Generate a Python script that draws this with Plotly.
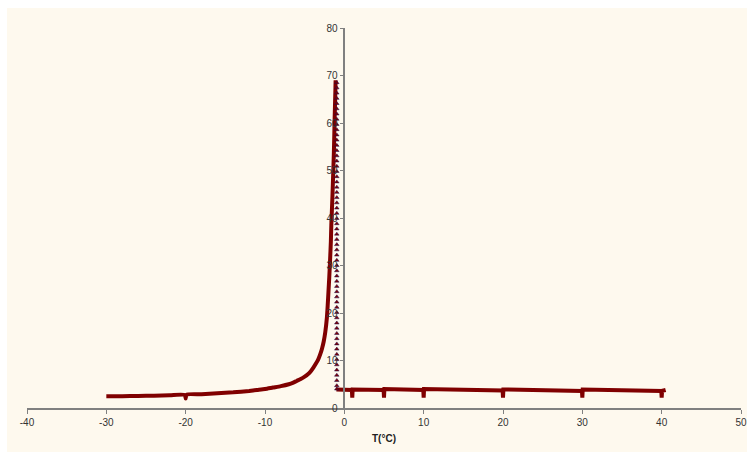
import plotly.graph_objects as go

# Left branch (cooling curve, rising to the peak)
t_left = [-30.0, -28.0, -26.0, -24.0, -22.0, -20.1, -20.0, -19.9, -18.0, -16.0, -14.0,
          -12.0, -11.0, -10.0, -9.0, -8.0, -7.0, -6.5, -6.0, -5.5, -5.0, -4.6, -4.2,
          -3.9, -3.6, -3.3, -3.0, -2.8, -2.6, -2.4, -2.2, -2.1, -2.0, -1.9, -1.8,
          -1.7, -1.64, -1.57, -1.5, -1.45, -1.39, -1.34, -1.3, -1.26, -1.22,
          -1.18, -1.15, -1.12, -1.1]
v_left = [2.5, 2.5, 2.55, 2.6, 2.7, 2.75, 2.0, 2.8, 2.9, 3.1, 3.3,
          3.6, 3.8, 4.0, 4.3, 4.6, 5.0, 5.3, 5.7, 6.1, 6.6, 7.1, 7.8,
          8.5, 9.3, 10.2, 11.5, 12.6, 14.0, 16.0, 19.0, 21.5, 24.5, 27.5, 31.0,
          35.0, 38.5, 41.5, 44.5, 47.0, 50.0, 52.5, 55.0, 58.0, 61.0,
          63.5, 65.5, 67.5, 69.0]

# Vertical drop after the peak (triangle markers)
t_drop = [-0.95] * 60
v_drop = [68.5, 67.4, 66.3, 65.2, 64.1, 63.0, 61.9, 60.8, 59.7, 58.6,
          57.5, 56.4, 55.3, 54.2, 53.1, 52.0, 50.9, 49.8, 48.7, 47.6,
          46.5, 45.4, 44.3, 43.2, 42.1, 41.0, 39.9, 38.8, 37.7, 36.6,
          35.5, 34.4, 33.3, 32.2, 31.1, 30.0, 28.9, 27.8, 26.7, 25.6,
          24.5, 23.4, 22.3, 21.2, 20.1, 19.0, 17.9, 16.8, 15.7, 14.6,
          13.5, 12.4, 11.3, 10.2, 9.1, 8.0, 6.9, 5.8, 4.7, 4.0]

# Right branch (flat plateau with small notches)
t_right = [-1.0, 0.95, 1.0, 1.05, 4.95, 5.0, 5.05, 9.95, 10.0, 10.05,
           19.95, 20.0, 20.05, 29.95, 30.0, 30.05, 39.95, 40.0, 40.05, 40.5]
v_right = [3.9, 3.8, 2.2, 3.9, 3.8, 2.2, 4.0, 3.8, 2.2, 4.0,
           3.7, 2.2, 3.9, 3.6, 2.2, 3.9, 3.6, 2.2, 3.6, 3.8]

x_ticks = [-40, -30, -20, -10, 0, 10, 20, 30, 40, 50]
x_labels = ["-40", "-30", "-20", "-10", "0", "10", "20", "30", "40", "50"]
y_ticks = [0, 10, 20, 30, 40, 50, 60, 70, 80]

LINE = "#800000"
AXIS = "#808080"
FONT = dict(family="Liberation Sans, Arial, sans-serif", size=10, color="#333333")

fig = go.Figure()
fig.add_trace(go.Scatter(x=t_left, y=v_left, mode="lines",
                         line=dict(color=LINE, width=4, shape="spline", smoothing=0.6),
                         showlegend=False))
fig.add_trace(go.Scatter(x=t_right, y=v_right, mode="lines",
                         line=dict(color=LINE, width=4), showlegend=False))
fig.add_trace(go.Scatter(x=t_drop, y=v_drop, mode="markers",
                         marker=dict(symbol="triangle-up", size=4, color=LINE,
                                     line=dict(color="#1a0a50", width=0.5)),
                         showlegend=False))

W, H = 751, 454
ml, mr, mt, mb = 27, 10, 28, 46
pw, ph = W - ml - mr, H - mt - mb

fig.add_shape(type="rect", xref="paper", yref="paper", layer="below",
              x0=(7 - ml) / pw, x1=(747 - ml) / pw,
              y0=(H - mb - 452) / ph, y1=(H - mb - 8) / ph,
              fillcolor="#FEF9EE", line=dict(width=0))

fig.update_layout(
    width=W, height=H,
    margin=dict(l=ml, r=mr, t=mt, b=mb, autoexpand=False),
    paper_bgcolor="white",
    plot_bgcolor="rgba(0,0,0,0)",
    font=FONT,
    xaxis=dict(range=[-40, 50], tickvals=x_ticks, ticktext=x_labels,
               showgrid=False, zeroline=False, automargin=False,
               showline=True, linecolor=AXIS, linewidth=1.5,
               ticks="outside", ticklen=4, tickcolor=AXIS, tickwidth=1,
               title=dict(text="<b>T(°C)</b>", font=dict(size=10, color="#222222"),
                          standoff=8)),
    yaxis=dict(range=[0, 80], tickvals=y_ticks, showgrid=False, zeroline=False,
               automargin=False,
               showline=True, linecolor=AXIS, linewidth=1.5,
               ticks="outside", ticklen=4, tickcolor=AXIS, tickwidth=1,
               anchor="free", position=40 / 90),
)

fig.write_html("out.html")
